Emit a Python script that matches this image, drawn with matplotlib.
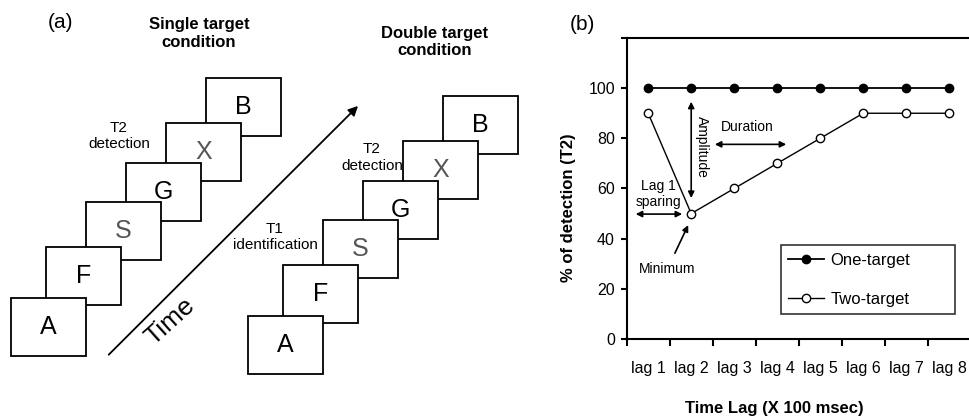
import matplotlib
matplotlib.use('Agg')
import matplotlib.pyplot as plt
import numpy as np

plt.rcParams['font.family'] = ['Liberation Sans', 'DejaVu Sans']

# 数据
lags = [1, 2, 3, 4, 5, 6, 7, 8]
lag_labels = ['lag 1', 'lag 2', 'lag 3', 'lag 4', 'lag 5', 'lag 6', 'lag 7', 'lag 8']
one_target = [100, 100, 100, 100, 100, 100, 100, 100]
two_target = [90, 50, 60, 70, 80, 90, 90, 90]

# 左图的字母序列
letters = ['A', 'F', 'S', 'G', 'X', 'B']
letter_colors = ['black', 'black', '#555555', 'black', '#555555', 'black']

fig = plt.figure(figsize=(9.69, 4.19), dpi=100)

# 左图 (a)：用像素坐标画示意图
ax_a = fig.add_axes([0, 0, 1, 1])
ax_a.set_xlim(0, 969)
ax_a.set_ylim(419, 0)
ax_a.axis('off')

# 每个方框左上角（单目标条件），双目标条件整体平移
box_x = [10.7, 45.7, 85.7, 125.7, 166, 206]
box_y = [298.3, 246.7, 201.7, 163.3, 123.3, 78.3]
box_w, box_h = 75, 58
shifts = [(0, 0), (237, 18)]


def draw_stack(dx, dy):
    for k in range(len(letters)):
        x = box_x[k] + dx
        y = box_y[k] + dy
        z = 10 - k
        rect = plt.Rectangle((x, y), box_w, box_h, fc='white', edgecolor='black', lw=1.3, zorder=z)
        ax_a.add_patch(rect)
        ax_a.text(x + box_w / 2, y + box_h / 2, letters[k], color=letter_colors[k], fontsize=18,
                  ha='center', va='center', zorder=z + 0.5)


for dx, dy in shifts:
    draw_stack(dx, dy)

ax_a.text(61, 23, '(a)', fontsize=15, ha='center', va='center')
ax_a.text(199, 33.5, 'Single target\ncondition', fontsize=12, fontweight='bold', ha='center', va='center',
          linespacing=1.22)
ax_a.text(435, 42, 'Double target\ncondition', fontsize=12, fontweight='bold', ha='center', va='center',
          linespacing=1.22)
ax_a.text(119, 136, 'T2\ndetection', fontsize=11, ha='center', va='center', linespacing=1.2)
ax_a.text(372, 157.5, 'T2\ndetection', fontsize=11, ha='center', va='center', linespacing=1.2)
ax_a.text(275, 237, 'T1\nidentification', fontsize=11, ha='center', va='center', linespacing=1.2)

# 时间箭头
ax_a.annotate('', xy=(360, 104), xytext=(106.7, 356.7),
              arrowprops=dict(arrowstyle='-|>', lw=1.3, color='black', mutation_scale=14))
ax_a.text(170, 322, 'Time', fontsize=19, rotation=42, ha='center', va='center')

# 右图 (b) 的标题和轴标签
ax_a.text(582, 25, '(b)', fontsize=15, ha='center', va='center')
ax_a.text(569, 207.5, '% of detection (T2)', fontsize=12, fontweight='bold', rotation=90,
          ha='center', va='center')
ax_a.text(774, 408, 'Time Lag (X 100 msec)', fontsize=12, fontweight='bold', ha='center', va='center')

# 右图 (b)：折线图
ax = fig.add_axes([626.7 / 969, 80 / 419, 344 / 969, 301 / 419])
ax.plot(lags, one_target, color='black', lw=1.3, marker='o', markersize=6,
        markerfacecolor='black', markeredgecolor='black', label='One-target', zorder=3)
ax.plot(lags, two_target, color='black', lw=1.0, marker='o', markersize=6,
        markerfacecolor='white', markeredgecolor='black', markeredgewidth=1.0, label='Two-target', zorder=3)

ax.set_xlim(0.5, 8.5)
ax.set_ylim(0, 120)
ax.set_xticks(np.arange(0.5, 9, 1))
ax.set_xticklabels([])
ax.set_xticks(lags, minor=True)
ax.set_xticklabels(lag_labels, minor=True)
ax.set_yticks([0, 20, 40, 60, 80, 100, 120])
ax.set_yticklabels(['0', '20', '40', '60', '80', '100', ''])
ax.tick_params(axis='x', which='major', direction='out', length=5, width=1.5)
ax.tick_params(axis='x', which='minor', length=0, pad=16, labelsize=11.5)
ax.tick_params(axis='y', direction='out', length=4.5, width=1.5, pad=4, labelsize=11.5)
for s in ['left', 'bottom', 'top']:
    ax.spines[s].set_linewidth(1.5)
ax.spines['right'].set_visible(False)
ax.patch.set_alpha(0)

# 注释
arrow = dict(arrowstyle='<|-|>', color='black', lw=1.2, mutation_scale=9, shrinkA=0, shrinkB=0)
ax.annotate('', xy=(2, 56.2), xytext=(2, 94.6), arrowprops=arrow)
ax.text(2.25, 76.4, 'Amplitude', fontsize=10, rotation=-90, ha='center', va='center')
ax.annotate('', xy=(2.55, 77.6), xytext=(4.21, 77.6), arrowprops=arrow)
ax.text(3.31, 84.6, 'Duration', fontsize=10, ha='center', va='center')
ax.annotate('', xy=(0.71, 49.8), xytext=(1.79, 49.8), arrowprops=arrow)
ax.text(1.23, 57.8, 'Lag 1\nsparing', fontsize=10, ha='center', va='center', linespacing=1.1)
ax.annotate('', xy=(1.93, 45.4), xytext=(1.62, 34.2),
            arrowprops=dict(arrowstyle='-|>', color='black', lw=1.2, mutation_scale=9, shrinkA=0, shrinkB=0))
ax.text(1.44, 27.9, 'Minimum', fontsize=10, ha='center', va='center')

leg = ax.legend(loc='upper left', bbox_to_anchor=(0.4485, 0.069, 0.506, 0.243), mode='expand',
                borderaxespad=0, fontsize=12, handlelength=2.15, handletextpad=0.35,
                labelspacing=1.45, borderpad=0.45, fancybox=False, frameon=True)
leg.get_frame().set_edgecolor('black')
leg.get_frame().set_linewidth(1.2)

plt.savefig('out.png', dpi=100)
plt.close()
